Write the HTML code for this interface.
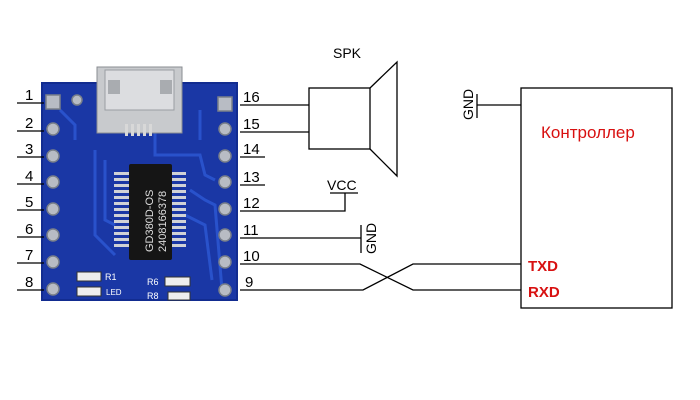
<!DOCTYPE html>
<html><head><meta charset="utf-8"><style>
html,body{margin:0;padding:0;background:#fff;}
svg{display:block;}
text{font-family:"Liberation Sans",sans-serif;}
</style></head><body>
<svg width="700" height="400" viewBox="0 0 700 400">
<!-- board -->
<rect x="42" y="83" width="195" height="217" fill="#1a37a5" rx="2"/>
<rect x="42" y="83" width="195" height="217" fill="none" stroke="#122c90" stroke-width="2"/>
<!-- traces -->
<g fill="none" stroke="#2b55d0" stroke-width="3" opacity="0.9">
<path d="M60 110 L75 125 L75 140"/>
<path d="M95 150 L95 235 L115 255"/>
<path d="M105 160 L105 220 L115 225"/>
<path d="M155 130 L155 155 L200 155 L205 175 L215 180"/>
<path d="M190 190 L205 200 L215 205 L222 290"/>
<path d="M200 110 L200 140"/>
<path d="M185 215 L205 225 L212 280"/>
</g>
<!-- pads -->
<g fill="#b8bcc4" stroke="#7a808a" stroke-width="1.5">
<rect x="46" y="95" width="14" height="14"/>
<circle cx="53" cy="129" r="6"/><circle cx="53" cy="156" r="6"/><circle cx="53" cy="182" r="6"/>
<circle cx="53" cy="209" r="6"/><circle cx="53" cy="235" r="6"/><circle cx="53" cy="262" r="6"/><circle cx="53" cy="289" r="6"/>
<circle cx="77" cy="100" r="5"/>
<rect x="218" y="97" width="14" height="14"/>
<circle cx="225" cy="129" r="6"/><circle cx="225" cy="156" r="6"/><circle cx="225" cy="182" r="6"/>
<circle cx="225" cy="209" r="6"/><circle cx="225" cy="235" r="6"/><circle cx="225" cy="262" r="6"/><circle cx="225" cy="290" r="6"/>
</g>
<!-- USB -->
<rect x="97" y="67" width="85" height="66" fill="#c8cacd" stroke="#8a8d92"/>
<rect x="105" y="70" width="69" height="40" fill="#dcdde0" stroke="#9a9da2"/>
<rect x="108" y="80" width="12" height="14" fill="#a9acb0"/><rect x="160" y="80" width="12" height="14" fill="#a9acb0"/>
<g fill="#d8d8d8"><rect x="125" y="124" width="3" height="12"/><rect x="131" y="124" width="3" height="12"/><rect x="137" y="124" width="3" height="12"/><rect x="143" y="124" width="3" height="12"/><rect x="149" y="124" width="3" height="12"/></g>
<!-- chip pins -->
<g fill="#d0d2d6">
<rect x="114" y="172" width="16" height="3"/><rect x="114" y="178" width="16" height="3"/><rect x="114" y="184" width="16" height="3"/><rect x="114" y="190" width="16" height="3"/><rect x="114" y="196" width="16" height="3"/><rect x="114" y="202" width="16" height="3"/><rect x="114" y="208" width="16" height="3"/><rect x="114" y="214" width="16" height="3"/><rect x="114" y="220" width="16" height="3"/><rect x="114" y="226" width="16" height="3"/><rect x="114" y="232" width="16" height="3"/><rect x="114" y="238" width="16" height="3"/><rect x="114" y="244" width="16" height="3"/>
<rect x="170" y="172" width="16" height="3"/><rect x="170" y="178" width="16" height="3"/><rect x="170" y="184" width="16" height="3"/><rect x="170" y="190" width="16" height="3"/><rect x="170" y="196" width="16" height="3"/><rect x="170" y="202" width="16" height="3"/><rect x="170" y="208" width="16" height="3"/><rect x="170" y="214" width="16" height="3"/><rect x="170" y="220" width="16" height="3"/><rect x="170" y="226" width="16" height="3"/><rect x="170" y="232" width="16" height="3"/><rect x="170" y="238" width="16" height="3"/><rect x="170" y="244" width="16" height="3"/>
</g>
<rect x="129" y="164" width="43" height="96" fill="#151515" rx="2"/>
<text transform="translate(153,252) rotate(-90)" font-size="11" fill="#ddd">GD380D-OS</text>
<text transform="translate(166,252) rotate(-90)" font-size="11" fill="#ddd">2408166378</text>
<!-- small parts -->
<rect x="77" y="272" width="24" height="9" fill="#eee" stroke="#333"/>
<rect x="77" y="287" width="24" height="9" fill="#eee" stroke="#333"/>
<text x="105" y="280" font-size="9" fill="#fff">R1</text>
<text x="106" y="295" font-size="8" fill="#fff">LED</text>
<rect x="165" y="277" width="25" height="9" fill="#eee" stroke="#333"/>
<rect x="168" y="292" width="22" height="8" fill="#eee" stroke="#333"/>
<text x="147" y="285" font-size="9" fill="#fff">R6</text>
<text x="147" y="299" font-size="9" fill="#fff">R8</text>
<!-- lines -->
<g stroke="#000" stroke-width="1.3" fill="none">
<path d="M17 103H44M17 131H44M17 157H44M17 184H44M17 210H44M17 237H44M17 263H44M17 290H44"/>
<path d="M240 105H309M240 132H309M240 157H265M240 185H265M240 211H345V193M330 193H358M240 238H361M361 225V253"/>
<path d="M240 264H360L413 290H521M240 290H363L413 264H521"/>
<rect x="309" y="88" width="61" height="61"/>
<path d="M370 88L397 62V176L370 149"/>
<rect x="521" y="88" width="151" height="220"/>
<path d="M477 105H521M477 94V118"/>
</g>
<g font-size="15" fill="#000">
<text x="25" y="100">1</text><text x="25" y="128">2</text><text x="25" y="154">3</text><text x="25" y="181">4</text>
<text x="25" y="207">5</text><text x="25" y="234">6</text><text x="25" y="260">7</text><text x="25" y="287">8</text>
<text x="243" y="102">16</text><text x="243" y="129">15</text><text x="243" y="154">14</text><text x="243" y="182">13</text>
<text x="243" y="208">12</text><text x="243" y="235">11</text><text x="243" y="261">10</text><text x="245" y="287">9</text>
</g>
<g font-size="14" fill="#000">
<text x="333" y="58">SPK</text>
<text x="327" y="190">VCC</text>
<text transform="translate(376,254) rotate(-90)">GND</text>
<text transform="translate(473,120) rotate(-90)">GND</text>
</g>
<text x="541" y="138" font-size="17" fill="#d81010">Контроллер</text>
<text x="528" y="271" font-size="15" font-weight="bold" fill="#d81010" font-family="Liberation Serif">TXD</text>
<text x="528" y="297" font-size="15" font-weight="bold" fill="#d81010" font-family="Liberation Serif">RXD</text>
</svg>
</body></html>
